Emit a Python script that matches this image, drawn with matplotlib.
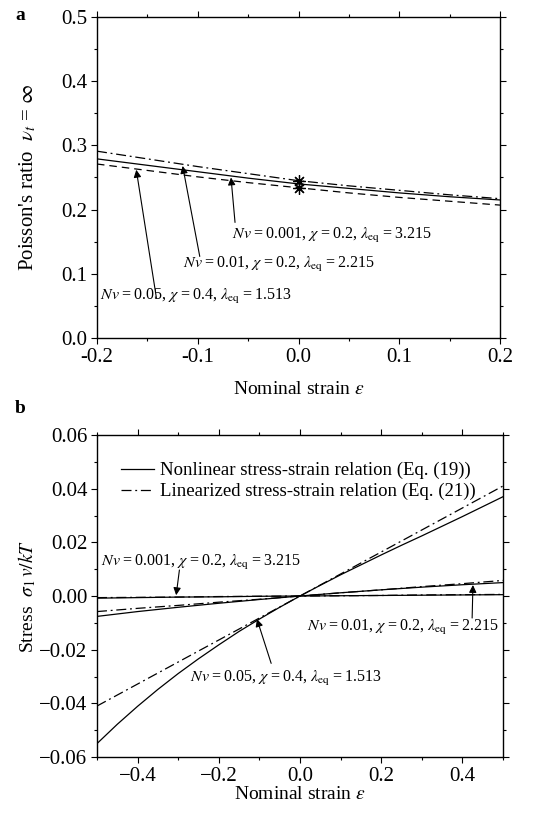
import matplotlib
matplotlib.use("Agg")
import matplotlib.pyplot as plt
from matplotlib.ticker import MultipleLocator, FuncFormatter

plt.rcParams['font.family'] = ['Liberation Serif', 'DejaVu Serif']
plt.rcParams['mathtext.fontset'] = 'stix'
plt.rcParams['font.size'] = 12

# (a) Poisson's ratio vs nominal strain
eps_a = [-0.2, -0.15, -0.1, -0.05, 0.0, 0.05, 0.1, 0.15, 0.2]
nu_dashdot = [0.291, 0.279, 0.267, 0.256, 0.245, 0.237, 0.230, 0.223, 0.217]
nu_solid = [0.279, 0.269, 0.259, 0.249, 0.240, 0.233, 0.226, 0.220, 0.215]
nu_dashed = [0.271, 0.261, 0.251, 0.242, 0.234, 0.226, 0.219, 0.213, 0.207]
star_x = [0.0, 0.0]
star_y = [0.244, 0.234]

# (b) stress vs nominal strain
eps_b = [-0.5, -0.4, -0.3, -0.2, -0.1, 0.0, 0.1, 0.2, 0.3, 0.4, 0.5]
eps_b_fine = [-0.5, -0.45, -0.4, -0.35, -0.3, -0.25, -0.2, -0.15, -0.1, -0.05, 0.0,
              0.05, 0.1, 0.15, 0.2, 0.25, 0.3, 0.35, 0.4, 0.45, 0.5]
s_nl_005 = [-0.0550, -0.0478, -0.0411, -0.0348, -0.0289, -0.0234, -0.0182, -0.0132,
            -0.0086, -0.0042, 0.0, 0.0040, 0.0079, 0.0116, 0.0153, 0.0189, 0.0224,
            0.0260, 0.0296, 0.0333, 0.0370]
s_li_005 = [-0.0410, -0.0328, -0.0246, -0.0164, -0.0082, 0.0, 0.0082, 0.0164, 0.0246, 0.0328, 0.0410]
s_nl_001 = [-0.0076, -0.0058, -0.0042, -0.0027, -0.0013, 0.0, 0.0012, 0.0023, 0.0033, 0.0042, 0.0050]
s_li_001 = [-0.0058, -0.0046, -0.0035, -0.0023, -0.0012, 0.0, 0.0012, 0.0023, 0.0035, 0.0046, 0.0058]
s_nl_0001 = [-0.0008, -0.0006, -0.0004, -0.0003, -0.0001, 0.0, 0.0001, 0.0002, 0.0003, 0.0004, 0.0005]
s_li_0001 = [-0.0006, -0.0005, -0.0004, -0.0002, -0.0001, 0.0, 0.0001, 0.0002, 0.0004, 0.0005, 0.0006]

T = '\u2009'
lab_0001 = rf"$Nv${T}={T}0.001, $\chi${T}={T}0.2, $\lambda_{{\rm eq}}${T}={T}3.215"
lab_001 = rf"$Nv${T}={T}0.01, $\chi${T}={T}0.2, $\lambda_{{\rm eq}}${T}={T}2.215"
lab_005 = rf"$Nv${T}={T}0.05, $\chi${T}={T}0.4, $\lambda_{{\rm eq}}${T}={T}1.513"
LAB_FS = 11.5

DASHDOT = (0, (8, 3, 1.5, 3))
DASHED = (0, (6, 4))
arrow = dict(arrowstyle='-|>', color='k', lw=0.8, mutation_scale=11,
             shrinkA=0, shrinkB=0)

fig = plt.figure(figsize=(5.59, 8.14), dpi=100)
ax1 = fig.add_axes([0.1735, 0.5848, 0.721, 0.3943])
ax2 = fig.add_axes([0.1735, 0.0700, 0.7263, 0.3956])

for ax in (ax1, ax2):
    ax.tick_params(which='both', direction='out', top=True, right=True,
                   labelsize=15, width=0.8)
    ax.tick_params(which='major', length=4, pad=3)
    ax.tick_params(which='minor', length=2.5)
    for sp in ax.spines.values():
        sp.set_linewidth(1.0)

# ---- panel a
ax1.plot(eps_a, nu_dashdot, color='k', lw=0.9, ls=DASHDOT)
ax1.plot(eps_a, nu_solid, color='k', lw=0.9)
ax1.plot(eps_a, nu_dashed, color='k', lw=0.9, ls=DASHED)
ax1.plot(star_x, star_y, ls='none', marker=(8, 2, 0), ms=9, mew=0.9, color='k')
ax1.set_xlim(-0.2, 0.2)
ax1.set_ylim(0.0, 0.5)
ax1.xaxis.set_major_locator(MultipleLocator(0.1))
ax1.xaxis.set_minor_locator(MultipleLocator(0.05))
ax1.yaxis.set_major_locator(MultipleLocator(0.1))
ax1.yaxis.set_minor_locator(MultipleLocator(0.05))
fmt1 = FuncFormatter(lambda v, p: f"{round(v, 3) + 0.0:.1f}")
ax1.xaxis.set_major_formatter(fmt1)
ax1.yaxis.set_major_formatter(fmt1)
ax1.set_xlabel(r"Nominal strain $\varepsilon$", fontsize=14, labelpad=10)
ax1.set_ylabel(r"Poisson's ratio  $\nu_t$ = $\infty$", fontsize=15)
ax1.yaxis.set_label_coords(-0.145, 0.5)

ax1.annotate('', xy=(-0.161, 0.262), xytext=(-0.141, 0.062), arrowprops=arrow)
ax1.annotate('', xy=(-0.115, 0.268), xytext=(-0.098, 0.127), arrowprops=arrow)
ax1.annotate('', xy=(-0.067, 0.250), xytext=(-0.063, 0.180), arrowprops=arrow)
ax1.text(-0.066, 0.160, lab_0001, ha='left', va='center', fontsize=LAB_FS)
ax1.text(-0.115, 0.114, lab_001, ha='left', va='center', fontsize=LAB_FS)
ax1.text(-0.197, 0.064, lab_005, ha='left', va='center', fontsize=LAB_FS)

# ---- panel b
ax2.plot(eps_b_fine, s_nl_005, color='k', lw=0.9,
         label="Nonlinear stress-strain relation (Eq. (19))")
ax2.plot(eps_b, s_li_005, color='k', lw=0.9, ls=DASHDOT,
         label="Linearized stress-strain relation (Eq. (21))")
ax2.plot(eps_b, s_nl_001, color='k', lw=0.9)
ax2.plot(eps_b, s_li_001, color='k', lw=0.9, ls=DASHDOT)
ax2.plot(eps_b, s_nl_0001, color='k', lw=0.9)
ax2.plot(eps_b, s_li_0001, color='k', lw=0.9, ls=DASHDOT)
ax2.set_xlim(-0.5, 0.5)
ax2.set_ylim(-0.06, 0.06)
ax2.xaxis.set_major_locator(MultipleLocator(0.2))
ax2.xaxis.set_minor_locator(MultipleLocator(0.1))
ax2.yaxis.set_major_locator(MultipleLocator(0.02))
ax2.yaxis.set_minor_locator(MultipleLocator(0.01))
ax2.xaxis.set_major_formatter(FuncFormatter(
    lambda v, p: f"{round(v, 3) + 0.0:.1f}".replace('-', '\u2212')))
ax2.yaxis.set_major_formatter(FuncFormatter(
    lambda v, p: f"{round(v, 4) + 0.0:.2f}".replace('-', '\u2212')))
ax2.set_xlabel(r"Nominal strain $\varepsilon$", fontsize=14, labelpad=0)
ax2.set_ylabel(r"Stress  $\sigma_1\, v/kT$", fontsize=14)
ax2.yaxis.set_label_coords(-0.145, 0.5)
ax2.legend(loc='upper left', bbox_to_anchor=(0.04, 0.94), frameon=False,
           fontsize=13.5, handlelength=1.8, handletextpad=0.3,
           labelspacing=0.2, borderaxespad=0)

ax2.annotate('', xy=(-0.305, 0.0003), xytext=(-0.297, 0.0097), arrowprops=arrow)
ax2.annotate('', xy=(0.426, 0.0041), xytext=(0.424, -0.0082), arrowprops=arrow)
ax2.annotate('', xy=(-0.106, -0.0086), xytext=(-0.071, -0.0251), arrowprops=arrow)
ax2.text(-0.49, 0.0124, lab_0001, ha='left', va='center', fontsize=LAB_FS)
ax2.text(0.017, -0.0116, lab_001, ha='left', va='center', fontsize=LAB_FS)
ax2.text(-0.271, -0.0307, lab_005, ha='left', va='center', fontsize=LAB_FS)

fig.text(15 / 559, 1 - 15 / 814, 'a', fontsize=14, fontweight='bold',
         ha='left', va='center')
fig.text(15 / 559, 1 - 408 / 814, 'b', fontsize=14, fontweight='bold',
         ha='left', va='center')

fig.savefig('out.png', dpi=100)
